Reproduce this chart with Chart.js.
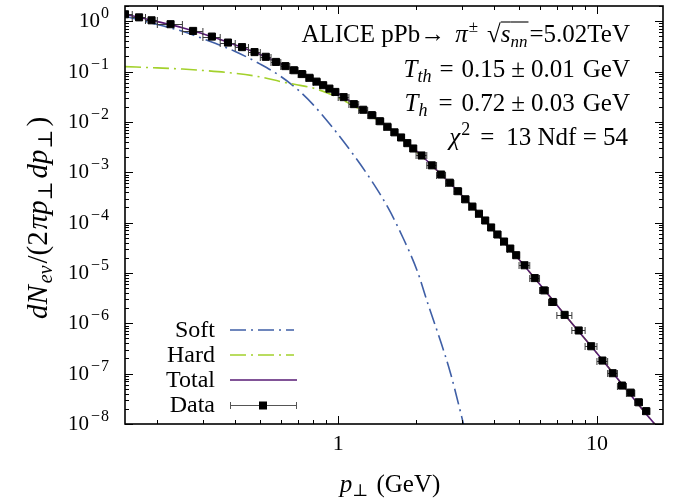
<!DOCTYPE html>
<html><head><meta charset="utf-8">
<script src="https://cdn.jsdelivr.net/npm/chart.js@4/dist/chart.umd.min.js"></script>
<style>html,body{margin:0;padding:0;background:#fff}canvas{display:block}</style>
</head><body>
<canvas id="c" width="683" height="503"></canvas>
<script>
// ---- data ----
const dataX = [0.15,0.17,0.19,
  0.225,0.275,0.325,0.375,0.425,0.475,0.525,0.575,0.625,0.675,0.725,0.775,0.825,0.875,0.925,0.975,
  1.05,1.15,1.25,1.35,1.45,1.55,1.65,1.75,1.85,1.95,
  2.1,2.3,2.5,2.7,2.9,3.1,3.3,3.5,3.7,3.9,
  4.125,4.375,4.625,4.875,
  5.25,5.75,6.25,6.75,
  7.5,8.5,9.5,10.5,11.5,12.5,13.5,14.5,15.5];
const dataY = [1.37,1.19,1.04,
  0.87,0.64,0.494,0.376,0.305,0.243,0.196,0.155,0.128,0.106,0.089,0.075,0.063,0.0535,0.0458,0.0393,
  0.0310,0.0225,0.0174,0.0136,0.0103,0.0080,0.0062,0.0049,0.00378,0.00296,
  0.00215,0.00137,0.00090,0.00062,0.00042,0.00029,0.000208,0.000150,0.000110,0.000080,
  5.8e-5,4.2e-5,3.05e-5,2.25e-5,
  1.42e-5,7.9e-6,4.5e-6,2.65e-6,
  1.47e-6,7.2e-7,3.5e-7,1.82e-7,1.02e-7,5.8e-8,4.2e-8,2.7e-8,1.8e-8];
const dataXErr = [0.01,0.01,0.01,
  0.025,0.025,0.025,0.025,0.025,0.025,0.025,0.025,0.025,0.025,0.025,0.025,0.025,0.025,0.025,0.025,
  0.05,0.05,0.05,0.05,0.05,0.05,0.05,0.05,0.05,0.05,
  0.1,0.1,0.1,0.1,0.1,0.1,0.1,0.1,0.1,0.1,
  0.125,0.125,0.125,0.125,
  0.25,0.25,0.25,0.25,
  0.5,0.5,0.5,0.5,0.5,0.5,0.5,0.5,0.5];

const softX = [0.15,0.2,0.25,0.3,0.4,0.5,0.6,0.7,0.8,0.95,1.14,1.35,1.56,1.78,2.02,2.23,2.48,2.71,3.0,3.15];
const softY = [1.25,0.86,0.63,0.45,0.25,0.14,0.08,0.043,0.022,0.0078,0.0023,6.6e-4,1.95e-4,5.0e-5,1.1e-5,2.3e-6,4.6e-7,1.07e-7,1.4e-8,5e-9];

const hardX = [0.15,0.2,0.25,0.3,0.4,0.5,0.6,0.7,0.8,0.95,1.2,1.5,2,2.5,3,4,5,6,8,10,12,14,16,18];
const hardY = [0.125,0.118,0.112,0.105,0.092,0.078,0.063,0.054,0.047,0.034,0.0183,0.0088,0.0026,0.0009,0.00035,6.8e-5,1.85e-5,6.0e-6,1.0e-6,2.55e-7,8.0e-8,3.0e-8,1.3e-8,6.5e-9];

const totalX = [0.15,0.175,0.2,0.25,0.3,0.35,0.4,0.45,0.5,0.6,0.7,0.8,0.9,1.0,1.2,1.4,1.6,1.8,2.0,2.5,3.0,3.5,4,5,6,7,8,10,12,14,16,18];
const totalY = [1.37,1.16,0.98,0.74,0.56,0.43,0.337,0.27,0.218,0.142,0.097,0.069,0.050,0.0365,0.0198,0.0118,0.0071,0.0043,0.0027,0.0009,0.00035,0.000152,6.8e-5,1.85e-5,6.0e-6,2.3e-6,1.0e-6,2.55e-7,8.0e-8,3.0e-8,1.3e-8,6.5e-9];

const xMajorTicks = [1, 10];
const xMajorLabels = ['1', '10'];
const yExponents = [0,-1,-2,-3,-4,-5,-6,-7,-8];
const legendLabels = ['Soft','Hard','Total','Data'];

const SERIF = '"Liberation Serif","DejaVu Serif",serif';
const F = (s, it) => (it ? 'italic ' : '') + s + 'px ' + SERIF;
const C_SOFT = '#3f5fa6', C_HARD = '#a3d12c', C_TOTAL = '#571a74';
const DASH = [16,5,2,5];

const pts = (xs, ys) => xs.map((x, i) => ({x, y: ys[i]}));

function drawRich(ctx, segs, x, baseline, align) {
  let total = 0;
  for (const s of segs) { ctx.font = s.f; s.tw = ctx.measureText(s.t).width; s.w = s.tw + (s.g || 0) + (s.ga || 0); total += s.w; }
  let cx = align === 'right' ? x - total : (align === 'center' ? x - total / 2 : x);
  for (const s of segs) {
    ctx.font = s.f;
    const tx = cx + (s.g || 0);
    ctx.fillText(s.t, tx, baseline + (s.dy || 0));
    if (s.over) {
      ctx.save(); ctx.lineWidth = 1.1; ctx.beginPath();
      ctx.moveTo(cx, baseline - s.over); ctx.lineTo(cx + s.w, baseline - s.over); ctx.stroke(); ctx.restore();
    }
    cx += s.w;
  }
  return total;
}

const decor = {
  id: 'decor',
  beforeDatasetDraw(chart, args) {
    if (args.index !== 3) return;
    const {ctx, scales: {x, y}} = chart;
    ctx.save();
    ctx.beginPath();
    ctx.rect(chart.chartArea.left, chart.chartArea.top, chart.chartArea.right - chart.chartArea.left, chart.chartArea.bottom - chart.chartArea.top);
    ctx.clip();
    ctx.strokeStyle = '#3a3a3a'; ctx.lineWidth = 1;
    dataX.forEach((v, i) => {
      const x0 = x.getPixelForValue(v - dataXErr[i]), x1 = x.getPixelForValue(v + dataXErr[i]);
      const py = Math.round(y.getPixelForValue(dataY[i])) + 0.5;
      ctx.beginPath();
      ctx.moveTo(x0, py); ctx.lineTo(x1, py);
      ctx.moveTo(x0, py - 3.5); ctx.lineTo(x0, py + 3.5);
      ctx.moveTo(x1, py - 3.5); ctx.lineTo(x1, py + 3.5);
      ctx.stroke();
    });
    ctx.restore();
  },
  afterDraw(chart) {
    const {ctx, chartArea: a, scales: {x, y}} = chart;
    ctx.save();
    ctx.strokeStyle = '#000'; ctx.fillStyle = '#000';
    // ticks
    ctx.lineWidth = 1;
    const xTick = (v, len) => {
      const px = Math.round(x.getPixelForValue(v)) + 0.5;
      ctx.beginPath(); ctx.moveTo(px, a.bottom); ctx.lineTo(px, a.bottom - len);
      ctx.moveTo(px, a.top); ctx.lineTo(px, a.top + len); ctx.stroke();
    };
    const yTick = (v, len) => {
      const py = Math.round(y.getPixelForValue(v)) + 0.5;
      ctx.beginPath(); ctx.moveTo(a.left, py); ctx.lineTo(a.left + len, py);
      ctx.moveTo(a.right, py); ctx.lineTo(a.right - len, py); ctx.stroke();
    };
    for (let d = 0.1; d <= 10; d *= 10) {
      for (let k = 1; k <= 9; k++) {
        const v = k * d;
        if (v < x.min || v > x.max) continue;
        xTick(v, k === 1 ? 8 : 4);
      }
    }
    for (const e of [-8,-7,-6,-5,-4,-3,-2,-1,0]) {
      for (let k = 1; k <= 9; k++) {
        const v = k * Math.pow(10, e);
        if (v < y.min * 0.999 || v > y.max) continue;
        yTick(v, k === 1 ? 8 : 4);
      }
    }
    // frame
    ctx.lineWidth = 1.6;
    ctx.strokeRect(a.left, a.top, a.right - a.left, a.bottom - a.top);

    // x tick labels
    ctx.textBaseline = 'alphabetic';
    xMajorTicks.forEach((v, i) => {
      ctx.font = F(22); ctx.textAlign = 'center';
      ctx.fillText(xMajorLabels[i], x.getPixelForValue(v), 450);
    });
    ctx.textAlign = 'left';
    // y tick labels
    yExponents.forEach(e => {
      const py = y.getPixelForValue(Math.pow(10, e));
      const segs = [{t: '10', f: F(21)}];
      if (e !== 0) segs.push({t: '\u2212', f: F(16), dy: -9, g: 2, ga: 1});
      segs.push({t: String(Math.abs(e)), f: F(16), dy: -9, g: e === 0 ? 1 : 0});
      drawRich(ctx, segs, 109, py + 6, 'right');
    });
    // axis titles
    drawRich(ctx, [{t: 'p', f: F(25, true)}, {t: '\u22A5', f: F(17), dy: 4, ga: 2}, {t: ' (GeV)', f: F(25)}], 390, 492, 'center');
    ctx.save();
    ctx.translate(47, 218); ctx.rotate(-Math.PI / 2);
    drawRich(ctx, [
      {t: 'dN', f: F(29, true), ga: 2}, {t: 'ev', f: F(20, true), dy: 5, ga: 2},
      {t: '/(2', f: F(29)}, {t: '\u03C0p', f: F(29, true), g: 2}, {t: '\u22A5', f: F(20), dy: 5, ga: 3},
      {t: 'dp', f: F(29, true), ga: 1}, {t: '\u22A5', f: F(20), dy: 5, ga: 3}, {t: ')', f: F(29)}
    ], 0, 0, 'center');
    ctx.restore();

    // annotation
    drawRich(ctx, [
      {t: 'ALICE pPb\u2192', f: F(25)}, {t: '\u03C0', f: F(25, true), g: 10}, {t: '\u00B1', f: F(17), dy: -10, g: 1},
      {t: '\u221A', f: F(25), g: 9}, {t: 's', f: F(25, true), over: 20}, {t: 'nn', f: F(17, true), dy: 5, over: 20, ga: 1},
      {t: '=5.02TeV', f: F(25), g: 1}
    ], 630, 42, 'right');
    drawRich(ctx, [
      {t: 'T', f: F(25, true)}, {t: 'th', f: F(18, true), dy: 5},
      {t: '=', f: F(25), g: 8, ga: 8}, {t: '0.15', f: F(25)}, {t: '\u00B1', f: F(25), g: 6, ga: 6},
      {t: '0.01', f: F(25)}, {t: 'GeV', f: F(25), g: 8}
    ], 630, 77, 'right');
    drawRich(ctx, [
      {t: 'T', f: F(25, true)}, {t: 'h', f: F(18, true), dy: 5, ga: 2},
      {t: '=', f: F(25), g: 9, ga: 9}, {t: '0.72', f: F(25)}, {t: '\u00B1', f: F(25), g: 6, ga: 6},
      {t: '0.03', f: F(25)}, {t: 'GeV', f: F(25), g: 8}
    ], 630, 111, 'right');
    drawRich(ctx, [
      {t: '\u03C7', f: F(25, true)}, {t: '2', f: F(18), dy: -10, g: 1},
      {t: '=', f: F(25), g: 10, ga: 10}, {t: '13 Ndf = 54', f: F(25), g: 2}
    ], 628, 145, 'right');

    // legend
    const rows = [330, 355, 380, 405];
    ctx.textAlign = 'right';
    legendLabels.forEach((l, i) => { ctx.font = F(24); ctx.fillText(l, 215, rows[i] + 7); });
    ctx.textAlign = 'left';
    ctx.lineWidth = 1.6;
    ctx.setLineDash(DASH);
    ctx.strokeStyle = C_SOFT; ctx.beginPath(); ctx.moveTo(230, rows[0]); ctx.lineTo(294, rows[0]); ctx.stroke();
    ctx.strokeStyle = C_HARD; ctx.beginPath(); ctx.moveTo(230, rows[1]); ctx.lineTo(294, rows[1]); ctx.stroke();
    ctx.setLineDash([]);
    ctx.strokeStyle = C_TOTAL; ctx.beginPath(); ctx.moveTo(230, rows[2]); ctx.lineTo(297, rows[2]); ctx.stroke();
    ctx.strokeStyle = '#555'; ctx.lineWidth = 1;
    const ry = rows[3] + 0.5;
    ctx.beginPath(); ctx.moveTo(230, ry); ctx.lineTo(297, ry);
    ctx.moveTo(230.5, ry - 3.5); ctx.lineTo(230.5, ry + 3.5); ctx.moveTo(296.5, ry - 3.5); ctx.lineTo(296.5, ry + 3.5); ctx.stroke();
    ctx.fillStyle = '#000'; ctx.fillRect(259, ry - 4, 8, 8);
    ctx.restore();
  }
};

new Chart(document.getElementById('c'), {
  type: 'line',
  data: {
    datasets: [
      {label: 'Soft', data: pts(softX, softY), borderColor: C_SOFT, borderWidth: 1.6, borderDash: DASH, pointRadius: 0, fill: false, cubicInterpolationMode: 'monotone', order: 3},
      {label: 'Hard', data: pts(hardX, hardY), borderColor: C_HARD, borderWidth: 1.6, borderDash: DASH, pointRadius: 0, fill: false, cubicInterpolationMode: 'monotone', order: 2},
      {label: 'Total', data: pts(totalX, totalY), borderColor: C_TOTAL, borderWidth: 1.6, pointRadius: 0, fill: false, cubicInterpolationMode: 'monotone', order: 1},
      {label: 'Data', data: pts(dataX, dataY), showLine: false, pointStyle: 'rect', pointRadius: 5, pointBorderWidth: 1, pointBackgroundColor: '#000', pointBorderColor: '#000', order: 0}
    ]
  },
  options: {
    responsive: false, animation: false,
    layout: {padding: {left: 125, right: 20, top: 4, bottom: 79}},
    plugins: {legend: {display: false}, tooltip: {enabled: false}},
    scales: {
      x: {type: 'logarithmic', min: 0.15, max: 18, display: false},
      y: {type: 'logarithmic', min: 1e-8, max: 2, display: false}
    }
  },
  plugins: [decor]
});
</script>
</body></html>
